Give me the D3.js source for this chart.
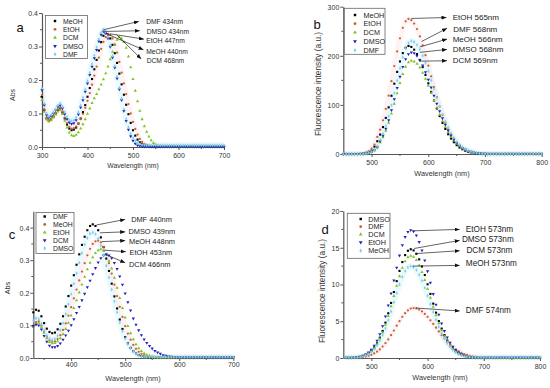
<!DOCTYPE html>
<html><head><meta charset="utf-8">
<script src="https://cdn.jsdelivr.net/npm/d3@7"></script>
<style>body{margin:0;background:#fff}svg{display:block}text{font-family:Arial,"Liberation Sans",sans-serif}</style>
</head><body><svg id="chart" width="550" height="388"></svg>
<script>
// ---------- Panel a (absorbance) ----------
const aWave = [300,305,310,315,320,325,330,335,340,345,350,355,360,365,370,375,380,385,390,395,400,405,410,415,420,425,430,435,440,445,450,455,460,465,470,475,480,485,490,495,500,505,510,515,520,525,530,535,540,545,550,555,560,565,570,575,580,585,590,595,600,605,610,615,620,625,630,635,640,645,650,655,660,665,670,675,680,685,690,695,700];
const aMeOH = [0.150,0.110,0.085,0.078,0.082,0.090,0.100,0.110,0.115,0.103,0.085,0.067,0.055,0.050,0.052,0.058,0.070,0.085,0.104,0.125,0.150,0.176,0.203,0.232,0.260,0.288,0.313,0.332,0.340,
 0.336,0.324,0.305,0.280,0.251,0.219,0.187,0.156,0.126,0.098,0.072,0.050,0.034,0.022,0.014,0.009,0.006,0.004,0.003,0.002,
 0.002,0.002,0.002,0.002,0.002,0.002,0.002,0.002,0.002,0.002,0.002,0.002,0.002,0.002,0.002,0.002,0.002,0.002,0.002,0.002,0.002,0.002,0.002,0.002,0.002,0.002,0.002,0.002,0.002,0.002,0.002,0.002];
const aEtOH = [0.155,0.113,0.087,0.080,0.084,0.092,0.102,0.112,0.117,0.106,0.088,0.071,0.060,0.055,0.056,0.061,0.070,0.083,0.099,0.117,0.138,0.161,0.186,0.213,0.240,0.267,0.293,0.314,0.328,0.335,
 0.334,0.324,0.306,0.282,0.254,0.222,0.190,0.158,0.128,0.100,0.075,0.054,0.037,0.024,0.015,0.009,0.006,0.004,0.003,0.002,
 0.002,0.002,0.002,0.002,0.002,0.002,0.002,0.002,0.002,0.002,0.002,0.002,0.002,0.002,0.002,0.002,0.002,0.002,0.002,0.002,0.002,0.002,0.002,0.002,0.002,0.002,0.002,0.002,0.002,0.002,0.002];
const aDCM = [0.140,0.105,0.082,0.076,0.080,0.088,0.097,0.106,0.110,0.098,0.078,0.058,0.043,0.035,0.033,0.036,0.044,0.055,0.068,0.083,
 0.099,0.115,0.131,0.145,0.158,0.172,0.186,0.202,0.220,0.240,0.262,0.284,0.304,0.320,0.328,0.324,0.313,0.296,0.270,0.238,
 0.203,0.168,0.136,0.108,0.083,0.062,0.045,0.031,0.020,0.012,0.007,0.004,0.003,0.002,0.002,0.002,0.002,0.002,0.002,0.002,
 0.002,0.002,0.002,0.002,0.002,0.002,0.002,0.002,0.002,0.002,0.002,0.002,0.002,0.002,0.002,0.002,0.002,0.002,0.002,0.002,0.002];
const aDMSO = [0.170,0.125,0.095,0.088,0.092,0.100,0.110,0.120,0.124,0.115,0.098,0.083,0.073,0.069,0.071,0.080,0.097,0.118,0.140,0.165,
 0.190,0.215,0.240,0.265,0.290,0.315,0.335,0.345,0.340,0.324,0.299,0.267,0.237,0.205,0.172,0.140,0.108,0.078,0.052,0.032,
 0.019,0.010,0.005,0.003,0.002,0.001,0.001,0.001,0.001,0.001,0.001,0.001,0.001,0.001,0.001,0.001,0.001,0.001,0.001,0.001,
 0.001,0.001,0.001,0.001,0.001,0.001,0.001,0.001,0.001,0.001,0.001,0.001,0.001,0.001,0.001,0.001,0.001,0.001,0.001,0.001,0.001];
const aDMF = [0.175,0.130,0.100,0.092,0.096,0.104,0.113,0.124,0.130,0.120,0.104,0.090,0.081,0.078,0.080,0.088,0.104,0.125,0.148,0.172,
 0.197,0.222,0.248,0.273,0.298,0.322,0.341,0.350,0.344,0.328,0.303,0.272,0.242,0.210,0.177,0.145,0.113,0.084,0.059,0.040,
 0.027,0.018,0.012,0.009,0.007,0.006,0.005,0.005,0.005,0.005,0.005,0.005,0.005,0.005,0.005,0.005,0.005,0.005,0.005,0.005,
 0.005,0.005,0.005,0.005,0.005,0.005,0.005,0.005,0.005,0.005,0.005,0.005,0.005,0.005,0.005,0.005,0.005,0.005,0.005,0.005,0.005];
const aNames = ["MeOH","EtOH","DCM","DMSO","DMF"];
const aNotes = ["DMF 434nm","DMSO 434nm","EtOH 447nm","MeOH 440nm","DCM 468nm"];
const aFromX = [435,437,449,442,464], aFromY = [0.350,0.345,0.338,0.338,0.335];
const aToX = [513,515,524,523,518], aToY = [0.375,0.347,0.322,0.290,0.263];
const aTextX = [529,530,529,529,530], aTextY = [0.375,0.345,0.317,0.285,0.258];
const aXTicks = [300,400,500,600,700], aXMinor = [350,450,550,650];
const aYTicks = [0,0.1,0.2,0.3,0.4], aYMinor = [0.05,0.15,0.25,0.35];

// ---------- Panel b (fluorescence) ----------
const bWave = [450,455,460,465,470,475,480,485,490,495,500,505,510,515,520,525,530,535,540,545,550,555,560,565,570,575,580,585,590,595,600,605,610,615,620,625,630,635,640,645,650,655,660,665,670,675,680,685,690,695,700,705,710,715,720,725,730,735,740,745,750,755,760,765,770,775,780,785,790,795,800];
const bMeOH = [0,0,0,0,0,0,
 0.4,1.1,2.2,4.4,7.0,15.0,26.0,39.6,54.8,73.5,95.0,118.6,143.2,167.2,188.5,205.5,216.3,220,218.1,212.5,203.5,191.6,177.1,161.0,143.9,126.5,109.1,92.6,77.2,63.4,51.0,40.3,31.5,24.0,18.0,13.2,9.7,6.8,4.8,3.3,2.3,1.5,1.0,0.7,
 0.4,0.4,0.4,0.4,0.4,0.4,0.4,0.4,0.4,0.4,0.4,0.4,0.4,0.4,0.4,0.4,0.4,0.4,0.4,0.4,0.4];
const bEtOH = [0,0,0,0,0,0,
 0.5,1.4,2.8,5.5,11.0,19.3,34.7,49.5,68.5,91.9,118.8,148.2,179.0,209.0,235.7,256.9,270.3,275,272.6,265.7,254.4,239.5,221.4,201.3,179.9,158.1,136.4,115.8,96.5,79.2,63.8,50.3,39.3,30.0,22.5,16.5,12.1,8.5,6.0,4.1,2.8,1.9,1.2,0.8,
 0.5,0.5,0.5,0.5,0.5,0.5,0.5,0.5,0.5,0.5,0.5,0.5,0.5,0.5,0.5,0.5,0.5,0.5,0.5,0.5,0.5];
const bDCM = [0,0,0,0,0,0,0,
 0.4,1.0,1.9,3.8,7.6,13.3,24.0,34.2,47.3,63.4,82.1,102.4,123.7,144.4,162.8,177.5,186.8,190,188.4,183.6,175.8,165.5,153.0,139.1,124.3,109.3,94.3,80.0,66.7,54.7,44.1,34.8,27.2,20.7,15.6,11.4,8.3,5.9,4.2,2.9,2.0,1.3,0.8,0.3,
 0.2,0.2,0.2,0.2,0.2,0.2,0.2,0.2,0.2,0.2,0.2,0.2,0.2,0.2,0.2,0.2,0.2,0.2,0.2,0.2];
const bDMSO = [0,0,0,0,0,0,0,
 0.4,1.0,2.1,4.1,8.3,14.5,26.1,37.3,51.5,69.1,89.4,111.6,134.7,157.3,177.4,193.3,203.5,207,205.2,200.0,191.5,180.3,166.6,151.5,135.4,119.0,102.7,87.1,72.7,59.6,48.0,37.9,29.6,22.6,17.0,12.4,9.1,6.4,4.6,3.1,2.1,1.4,0.9,0.4,
 0.3,0.3,0.3,0.3,0.3,0.3,0.3,0.3,0.3,0.3,0.3,0.3,0.3,0.3,0.3,0.3,0.3,0.3,0.3,0.3];
const bDMF = [0,0,0,0,0,0,0,
 0.5,1.2,2.3,4.6,9.2,16.1,29.0,41.4,57.3,76.8,99.4,124.0,149.7,174.8,197.1,214.8,226.1,230,228.0,222.2,212.8,200.3,185.2,168.4,150.4,132.3,114.1,96.8,80.7,66.2,53.4,42.1,32.9,25.1,18.9,13.8,10.1,7.1,5.1,3.5,2.4,1.6,1.0,0.7,
 0.6,0.6,0.6,0.6,0.6,0.6,0.6,0.6,0.6,0.6,0.6,0.6,0.6,0.6,0.6,0.6,0.6,0.6,0.6,0.6];
const bNames = ["MeOH","EtOH","DCM","DMSO","DMF"];
const bNotes = ["EtOH 565nm","DMF 568nm","MeOH 566nm","DMSO 568nm","DCM 569nm"];
const bFromX = [570,588,585,585,584], bFromY = [276,229,218,207,189];
const bToX = [632,633,633,633,633], bToY = [278,256,234,213,190];
const bTextX = [643,644,643,643,643], bTextY = [278,254,234,213,190];
const bXTicks = [500,600,700,800], bXMinor = [450,550,650,750];
const bYTicks = [0,100,200,300], bYMinor = [50,150,250];

// ---------- Panel c (absorbance) ----------
const cWave = [330,335,340,345,350,355,360,365,370,375,380,385,390,395,400,405,410,415,420,425,430,435,440,445,450,455,460,465,470,475,480,485,490,495,500,505,510,515,520,525,530,535,540,545,550,555,560,565,570,575,580,585,590,595,600,605,610,615,620,625,630,635,640,645,650,655,660,665,670,675,680,685,690,695,700];
const cDMF = [0.140,0.148,0.145,0.128,0.107,0.090,0.080,0.076,0.078,0.088,0.105,0.128,0.158,0.190,0.222,0.254,0.286,0.318,0.347,0.372,0.392,0.405,0.410,
 0.405,0.392,0.370,0.340,0.305,0.267,0.228,0.189,0.152,0.118,0.089,0.064,0.045,0.031,0.021,0.014,0.009,0.006,0.004,0.003,
 0.002,0.002,0.002,0.002,0.002,0.002,0.002,0.002,0.002,0.002,0.002,0.002,0.002,0.002,0.002,0.002,0.002,0.002,0.002,0.002,0.002,0.002,0.002,0.002,0.002,0.002,0.002,0.002,0.002,0.002,0.002,0.002];
const cMeOH = [0.100,0.110,0.112,0.100,0.082,0.065,0.054,0.050,0.051,0.058,0.070,0.086,0.106,0.130,0.156,0.183,0.210,0.238,0.265,0.291,0.315,0.335,0.350,0.358,0.360,
 0.355,0.341,0.319,0.291,0.259,0.225,0.190,0.157,0.126,0.098,0.075,0.056,0.040,0.028,0.019,0.013,0.009,0.006,0.004,0.003,
 0.002,0.002,0.002,0.002,0.002,0.002,0.002,0.002,0.002,0.002,0.002,0.002,0.002,0.002,0.002,0.002,0.002,0.002,0.002,0.002,0.002,0.002,0.002,0.002,0.002,0.002,0.002,0.002,0.002,0.002];
const cEtOH = [0.095,0.105,0.108,0.096,0.077,0.060,0.049,0.045,0.046,0.051,0.060,0.073,0.089,0.108,0.130,0.153,0.177,0.201,0.225,0.249,0.272,0.292,0.309,0.322,0.330,0.333,
 0.329,0.317,0.298,0.274,0.246,0.215,0.184,0.153,0.124,0.098,0.076,0.057,0.042,0.030,0.021,0.014,0.010,0.007,0.005,0.003,
 0.002,0.002,0.002,0.002,0.002,0.002,0.002,0.002,0.002,0.002,0.002,0.002,0.002,0.002,0.002,0.002,0.002,0.002,0.002,0.002,0.002,0.002,0.002,0.002,0.002,0.002,0.002,0.002,0.002];
const cDCM = [0.098,0.102,0.100,0.088,0.068,0.050,0.038,0.033,0.033,0.037,0.045,0.056,0.069,0.084,0.101,0.119,0.138,0.157,0.177,0.197,0.217,0.237,0.257,0.276,0.293,0.306,0.315,0.318,
 0.315,0.306,0.292,0.273,0.250,0.225,0.198,0.171,0.146,0.121,0.102,0.085,0.070,0.057,0.046,0.037,0.029,0.022,0.017,0.013,
 0.009,0.007,0.005,0.004,0.003,0.002,0.002,0.002,0.002,0.002,0.002,0.002,0.002,0.002,0.002,0.002,0.002,0.002,0.002,0.002,0.002,0.002,0.002,0.002,0.002,0.002,0.002];
const cDMSO = [0.115,0.122,0.120,0.105,0.085,0.069,0.059,0.055,0.058,0.068,0.085,0.107,0.135,0.165,0.196,0.228,0.260,0.292,0.322,0.348,0.368,0.381,0.385,
 0.380,0.366,0.345,0.316,0.283,0.247,0.210,0.174,0.140,0.109,0.082,0.060,0.043,0.030,0.020,0.013,0.008,0.005,0.004,0.003,
 0.003,0.003,0.003,0.003,0.003,0.003,0.003,0.003,0.003,0.003,0.003,0.003,0.003,0.003,0.003,0.003,0.003,0.003,0.003,0.003,0.003,0.003,0.003,0.003,0.003,0.003,0.003,0.003,0.003,0.003,0.003,0.003];
const cNames = ["DMF","MeOH","EtOH","DCM","DMSO"];
const cNotes = ["DMF 440nm","DMSO 439nm","MeOH 448nm","EtOH 453nm","DCM 466nm"];
const cFromX = [447,453,457,460,466], cFromY = [0.408,0.384,0.357,0.331,0.316];
const cToX = [500,500,500,501,500], cToY = [0.425,0.387,0.360,0.326,0.292];
const cTextX = [511,506,507,508,507], cTextY = [0.425,0.387,0.357,0.325,0.288];
const cXTicks = [400,500,600,700], cXMinor = [350,450,550,650];
const cYTicks = [0,0.1,0.2,0.3,0.4], cYMinor = [0.05,0.15,0.25,0.35];

// ---------- Panel d (fluorescence) ----------
const dWave = [455,460,465,470,475,480,485,490,495,500,505,510,515,520,525,530,535,540,545,550,555,560,565,570,575,580,585,590,595,600,605,610,615,620,625,630,635,640,645,650,655,660,665,670,675,680,685,690,695,700,705,710,715,720,725,730,735,740,745,750,755,760,765,770,775,780,785,790,795,800];
const dDMSO = [0.04,0.04,0.04,
 0.06,0.10,0.16,0.27,0.42,0.65,0.97,1.41,2.00,2.77,3.68,4.81,6.08,7.49,8.98,10.46,11.85,13.05,14.00,14.59,14.8,14.64,14.18,13.42,12.45,11.29,10.03,8.72,7.40,6.17,5.02,4.00,3.12,2.38,1.78,1.30,0.93,0.65,0.44,0.30,0.19,0.13,0.08,0.05,
 0.04,0.04,0.04,0.04,0.04,0.04,0.04,0.04,0.04,0.04,0.04,0.04,0.04,0.04,0.04,0.04,0.04,0.04,0.04,0.04,0.04,0.04,0.04];
const dDMF = [0.03,0.03,0.03,0.03,
 0.05,0.08,0.13,0.20,0.30,0.44,0.62,0.86,1.17,1.55,2.01,2.53,3.11,3.74,4.39,5.01,5.60,6.09,6.47,6.72,6.8,6.75,6.59,6.34,6.00,5.60,5.13,4.64,4.13,3.61,3.11,2.65,2.21,1.82,1.47,1.17,0.92,0.71,0.54,0.41,0.30,0.22,0.16,0.11,0.07,0.05,
 0.04,0.04,0.04,0.04,0.04,0.04,0.04,0.04,0.04,0.04,0.04,0.04,0.04,0.04,0.04,0.04,0.04,0.04,0.04,0.04];
const dDCM = [0.04,0.04,0.04,
 0.05,0.09,0.15,0.25,0.40,0.61,0.91,1.33,1.88,2.60,3.46,4.52,5.71,7.03,8.44,9.83,11.13,12.26,13.15,13.71,13.9,13.75,13.32,12.61,11.69,10.61,9.42,8.19,6.95,5.80,4.71,3.75,2.93,2.24,1.67,1.22,0.88,0.61,0.42,0.28,0.18,0.12,0.07,0.05,
 0.04,0.04,0.04,0.04,0.04,0.04,0.04,0.04,0.04,0.04,0.04,0.04,0.04,0.04,0.04,0.04,0.04,0.04,0.04,0.04,0.04,0.04,0.04];
const dEtOH = [0.05,0.05,0.05,
 0.07,0.12,0.19,0.31,0.50,0.76,1.14,1.66,2.35,3.25,4.33,5.66,7.15,8.80,10.56,12.30,13.94,15.35,16.46,17.16,17.4,17.21,16.67,15.78,14.63,13.28,11.80,10.25,8.70,7.26,5.90,4.70,3.67,2.80,2.09,1.53,1.10,0.77,0.52,0.35,0.23,0.15,0.09,0.06,
 0.05,0.05,0.05,0.05,0.05,0.05,0.05,0.05,0.05,0.05,0.05,0.05,0.05,0.05,0.05,0.05,0.05,0.05,0.05,0.05,0.05,0.05,0.05];
const dMeOH = [0.1,0.1,0.1,
 0.1,0.1,0.14,0.22,0.36,0.55,0.82,1.19,1.69,2.34,3.11,4.06,5.14,6.33,7.59,8.84,10.01,11.03,11.83,12.33,12.5,12.36,11.98,11.34,10.51,9.54,8.48,7.36,6.25,5.21,4.24,3.38,2.64,2.01,1.50,1.10,0.79,0.55,0.38,0.25,0.17,0.12,0.1,0.1,
 0.1,0.1,0.1,0.1,0.1,0.1,0.1,0.1,0.1,0.1,0.1,0.1,0.1,0.1,0.1,0.1,0.1,0.1,0.1,0.1,0.1,0.1,0.1];
const dNames = ["DMSO","DMF","DCM","EtOH","MeOH"];
const dNotes = ["EtOH 573nm","DMSO 573nm","DCM 573nm","MeOH 573nm","DMF 574nm"];
const dFromX = [573,576,578,573,579], dFromY = [17.3,14.9,14.2,12.5,6.8];
const dToX = [657,657,657,657,657], dToY = [17.5,16.0,14.6,12.6,6.4];
const dTextX = [668,661,669,668,668], dTextY = [17.5,16.1,14.6,12.8,6.4];
const dXTicks = [500,600,700,800], dXMinor = [550,650,750];
const dYTicks = [0,5,10,15,20], dYMinor = [2.5,7.5,12.5,17.5];

// ---------- styles ----------
const colors = ["#000000","#c8602c","#7dc41f","#1f22b8","#7fd0ee"];
const triDown = {draw(ctx,size){const s=Math.sqrt(size/(Math.sqrt(3)/4));const h=s*Math.sqrt(3)/2;ctx.moveTo(0,h*2/3);ctx.lineTo(s/2,-h/3);ctx.lineTo(-s/2,-h/3);ctx.closePath();}};
const symbols = [d3.symbolSquare,d3.symbolCircle,d3.symbolTriangle,triDown,d3.symbolDiamond];

const svg = d3.select("#chart");
svg.append("rect").attr("width",550).attr("height",388).attr("fill","#fff");
const defs = svg.append("defs");
defs.append("marker").attr("id","arr").attr("viewBox","0 0 10 8").attr("refX",10).attr("refY",4)
  .attr("markerUnits","userSpaceOnUse").attr("markerWidth",5).attr("markerHeight",4).attr("orient","auto")
  .append("path").attr("d","M0,0L10,4L0,8Z").attr("fill","#111");

const panels = [
 {id:"a", left:42,right:224,bottom:147,top:13, xd:[300,700], yd:[0,0.4], fmt:d3.format(".1f"),
  xt:aXTicks, xm:aXMinor, yt:aYTicks, ym:aYMinor, wave:aWave, series:[aMeOH,aEtOH,aDCM,aDMSO,aDMF], names:aNames,
  notes:aNotes, fx:aFromX, fy:aFromY, tx:aToX, ty:aToY, lx:aTextX, ly:aTextY,
  xlab:[133,165], xSize:6.8, ylab:[12,95], yTitle:"Abs", ySize:7, letter:[20,27], xLabY:155,
  noteSize:6.7, legSize:6.8,
  leg:{x:45.5,y:15.5,w:42,h:43,mx:55,tx:63,ys:[21,29.3,37.7,46,54.3]}},
 {id:"b", left:343.3,right:541.7,bottom:154,top:6.7, xd:[450,800], yd:[0,300], fmt:d3.format("d"),
  xt:bXTicks, xm:bXMinor, yt:bYTicks, ym:bYMinor, wave:bWave, series:[bMeOH,bEtOH,bDCM,bDMSO,bDMF], names:bNames,
  notes:bNotes, fx:bFromX, fy:bFromY, tx:bToX, ty:bToY, lx:bTextX, ly:bTextY,
  xlab:[442,173], xSize:7.3, ylab:[318,84], yTitle:"Fluorescence intensity (a.u.)", ySize:8.3, letter:[317,24], xLabY:162,
  noteSize:8, legSize:7.2,
  leg:{x:344.3,y:8.3,w:40.7,h:46,mx:355,tx:363.5,ys:[15,23.7,32.3,41.3,50.3]}},
 {id:"c", left:33.3,right:233.3,bottom:358,top:211.3, xd:[330,700], yd:[0,0.45], fmt:d3.format(".1f"),
  xt:cXTicks, xm:cXMinor, yt:cYTicks, ym:cYMinor, wave:cWave, series:[cDMF,cMeOH,cEtOH,cDCM,cDMSO], names:cNames,
  notes:cNotes, fx:cFromX, fy:cFromY, tx:cToX, ty:cToY, lx:cTextX, ly:cTextY,
  xlab:[133,378], xSize:7.3, ylab:[7,288], yTitle:"Abs", ySize:7.3, letter:[12,234], xLabY:364,
  noteSize:7.4, legSize:6.8,
  leg:{x:36,y:212.5,w:38,h:41,mx:44.7,tx:53,ys:[216.5,224.5,232.3,240.3,248.3]}},
 {id:"d", left:343.3,right:540,bottom:358,top:211, xd:[450,800], yd:[0,20], fmt:d3.format("d"),
  xt:dXTicks, xm:dXMinor, yt:dYTicks, ym:dYMinor, wave:dWave, series:[dDMSO,dDMF,dDCM,dEtOH,dMeOH], names:dNames,
  notes:dNotes, fx:dFromX, fy:dFromY, tx:dToX, ty:dToY, lx:dTextX, ly:dTextY,
  xlab:[440,377], xSize:7.3, ylab:[322,291], yTitle:"Fluorescence intensity (a.u.)", ySize:8.3, letter:[325,229], xLabY:366,
  noteSize:8.2, legSize:7.2,
  leg:{x:347.3,y:213.3,w:42.7,h:45,mx:360.7,tx:368.3,ys:[219,226.7,234.3,242.3,250.7]}}
];

panels.forEach(p => {
  const x = d3.scaleLinear().domain(p.xd).range([p.left,p.right]);
  const y = d3.scaleLinear().domain(p.yd).range([p.bottom,p.top]);
  const g = svg.append("g");

  // faint tint around the light series (as in the compressed original)
  const line = d3.line().x((d,i)=>x(p.wave[i])).y(d=>y(d));
  g.append("path").datum(p.series[4]).attr("d",line).attr("fill","none")
    .attr("stroke","#ddf5fb").attr("stroke-width",6).attr("stroke-linejoin","round").attr("opacity",0.55);
  g.append("path").datum(p.series[1]).attr("d",line).attr("fill","none")
    .attr("stroke","#fbe4ec").attr("stroke-width",5).attr("stroke-linejoin","round").attr("opacity",0.45);

  // axes
  const ax = g.append("g").attr("transform",`translate(0,${p.bottom})`)
    .call(d3.axisBottom(x).tickValues(p.xt).tickSize(3).tickSizeOuter(0).tickPadding(1).tickFormat(d3.format("d")));
  const ay = g.append("g").attr("transform",`translate(${p.left},0)`)
    .call(d3.axisLeft(y).tickValues(p.yt).tickSize(3).tickSizeOuter(0).tickPadding(1).tickFormat(p.fmt));
  [ax,ay].forEach(a => {
    a.select(".domain").attr("stroke","#555").attr("stroke-width",1.2);
    a.selectAll(".tick line").attr("stroke","#555");
    a.selectAll(".tick text").attr("fill","#333").attr("font-size",7).attr("font-family","Arial, Liberation Sans, sans-serif");
  });
  ax.selectAll(".tick text").attr("y",null).attr("dy",null).attr("dominant-baseline","central")
    .attr("transform",`translate(0,${p.xLabY - p.bottom})`);
  ay.selectAll(".tick text").attr("dy","0.35em");
  g.selectAll(".xminor").data(p.xm).join("line")
    .attr("x1",d=>x(d)).attr("x2",d=>x(d)).attr("y1",p.bottom).attr("y2",p.bottom+2).attr("stroke","#555");
  g.selectAll(".yminor").data(p.ym).join("line")
    .attr("x1",p.left-2).attr("x2",p.left).attr("y1",d=>y(d)).attr("y2",d=>y(d)).attr("stroke","#555");

  // series markers
  p.series.forEach((s,k) => {
    const sym = d3.symbol().type(symbols[k]).size(k===1?4:4.5);
    g.append("g").selectAll("path").data(s).join("path")
      .attr("transform",(d,i)=>`translate(${x(p.wave[i])},${y(d)})`)
      .attr("d",sym).attr("fill",colors[k]);
  });

  // legend
  const L = p.leg;
  g.append("rect").attr("x",L.x).attr("y",L.y).attr("width",L.w).attr("height",L.h)
    .attr("fill","#fff").attr("stroke","#666").attr("stroke-width",0.8);
  p.names.forEach((n,k) => {
    g.append("path").attr("d",d3.symbol().type(symbols[k]).size(6)).attr("fill",colors[k])
      .attr("transform",`translate(${L.mx},${L.ys[k]})`);
    g.append("text").attr("x",L.tx).attr("y",L.ys[k]).attr("dominant-baseline","central")
      .attr("font-size",p.legSize).attr("fill","#222").text(n);
  });

  // annotations
  p.notes.forEach((n,k) => {
    g.append("line").attr("x1",x(p.fx[k])).attr("y1",y(p.fy[k])).attr("x2",x(p.tx[k])).attr("y2",y(p.ty[k]))
      .attr("stroke","#222").attr("stroke-width",0.7).attr("marker-end","url(#arr)");
    g.append("text").attr("x",x(p.lx[k])).attr("y",y(p.ly[k])).attr("dominant-baseline","central")
      .attr("font-size",p.noteSize).attr("fill","#222").text(n);
  });

  // titles
  g.append("text").attr("x",p.xlab[0]).attr("y",p.xlab[1]).attr("text-anchor","middle").attr("dominant-baseline","central")
    .attr("font-size",p.xSize).attr("fill","#333").text("Wavelength (nm)");
  g.append("text").attr("transform",`translate(${p.ylab[0]},${p.ylab[1]}) rotate(-90)`).attr("text-anchor","middle")
    .attr("dominant-baseline","central").attr("font-size",p.ySize).attr("fill","#333").text(p.yTitle);
  g.append("text").attr("x",p.letter[0]).attr("y",p.letter[1]).attr("text-anchor","middle").attr("dominant-baseline","central")
    .attr("font-size",13).attr("fill","#111").text(p.id);
});
</script></body></html>
